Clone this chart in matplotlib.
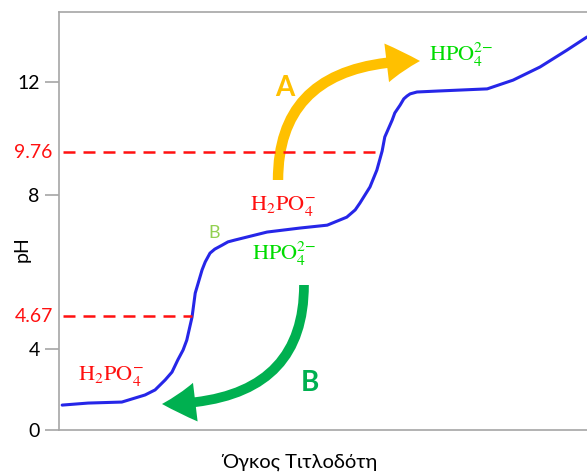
import numpy as np
import matplotlib
matplotlib.use("Agg")
import matplotlib.pyplot as plt
from matplotlib.patches import FancyArrowPatch
import matplotlib.transforms as mtransforms

plt.rcParams['font.family'] = ['Lato', 'Noto Sans', 'DejaVu Sans']
plt.rcParams['mathtext.fontset'] = 'stix'

# --- datos ---
volume = [0.6, 5.5, 11.9, 16.3, 18.2, 20.1, 21.4, 22.5, 23.5, 24.2, 25.2, 25.8,
          27.1, 27.7, 28.6, 29.5, 30.9, 32.0, 33.3, 39.4, 45.6, 50.8, 54.5, 56.1,
          57.0, 58.9, 60.2, 61.2, 61.7, 63.1, 63.6, 64.6, 65.3, 65.9, 66.5, 67.8,
          71.6, 81.1, 86.0, 91.1, 96.2, 100.0]
ph = [1.23, 1.33, 1.38, 1.73, 1.98, 2.47, 2.86, 3.46, 3.95, 4.18, 4.65, 5.30,
      5.94, 6.16, 6.40, 6.51, 6.62, 6.71, 6.76, 6.98, 7.09, 7.17, 7.39, 7.59,
      7.78, 8.33, 9.02, 9.79, 10.24, 10.78, 11.01, 11.26, 11.46, 11.55, 11.62, 11.68,
      11.71, 11.78, 12.06, 12.48, 13.02, 13.44]
pka_values = [4.67, 9.76]
y_ticks = [0, 4, 8, 12]

# el eje de pH del dibujo original no es lineal: escala por tramos
scale_ph = [-2, 0, 4, 4.67, 8, 9.76, 12, 16]
scale_pos = [-40.5, 0, 81, 114, 235, 278, 348, 473]


def forward(v):
    return np.interp(v, scale_ph, scale_pos)


def inverse(p):
    return np.interp(p, scale_pos, scale_ph)


fig = plt.figure(figsize=(5.87, 4.72), dpi=100)
ax = fig.add_axes([59 / 587, 42 / 472, 528 / 587, 418 / 472])
ax.set_yscale('function', functions=(forward, inverse))
ax.set_xlim(0, 100)
ax.set_ylim(0, 14.24)

# curva de titulación
ax.plot(volume, ph, color='#2626E8', linewidth=2.2, solid_capstyle='round',
        solid_joinstyle='round')

# líneas de pKa
for pk in pka_values:
    x_end = np.interp(pk, ph, volume)
    ax.plot([0.7, x_end], [pk, pk], color='#FF1010', linewidth=1.8,
            dashes=(4.8, 3.2))

# ejes
for side in ['left', 'bottom', 'top']:
    ax.spines[side].set_color('#A6A6A6')
    ax.spines[side].set_linewidth(1.2)
ax.spines['right'].set_visible(False)
ax.set_xticks([])
ax.set_yticks(y_ticks)
ax.set_yticklabels([str(t) for t in y_ticks])
ax.tick_params(axis='y', length=10, width=1.2, color='#A6A6A6', pad=4,
               labelsize=14)

trans = mtransforms.blended_transform_factory(ax.transAxes, ax.transData)
for pk in pka_values:
    ax.text(-0.012, pk, f'{pk:.2f}', transform=trans, ha='right', va='center',
            color='#FF1010', fontsize=14)

ax.set_ylabel('pH', fontsize=14, va='center')
ax.yaxis.set_label_coords(-0.070, 0.433)
ax.set_xlabel('Όγκος Τιτλοδότη', fontsize=14.5, va='center')
ax.xaxis.set_label_coords(0.456, -0.077)

# flechas A y B
arrow_a = FancyArrowPatch((0.4148, 0.5981), (0.6837, 0.8828),
                          transform=ax.transAxes,
                          connectionstyle='angle3,angleA=90,angleB=0',
                          arrowstyle='simple,head_length=24,head_width=28,tail_width=7.5',
                          mutation_scale=1, shrinkA=0, shrinkB=0,
                          color='#FFC000', linewidth=0)
ax.add_patch(arrow_a)
arrow_b = FancyArrowPatch((0.4640, 0.3469), (0.1951, 0.0622),
                          transform=ax.transAxes,
                          connectionstyle='angle3,angleA=90,angleB=0',
                          arrowstyle='simple,head_length=24,head_width=28,tail_width=7',
                          mutation_scale=1, shrinkA=0, shrinkB=0,
                          color='#00B050', linewidth=0)
ax.add_patch(arrow_b)

ax.text(0.428, 0.818, 'A', transform=ax.transAxes, ha='center', va='center',
        color='#FFC000', fontsize=20, fontweight='bold')
ax.text(0.475, 0.112, 'B', transform=ax.transAxes, ha='center', va='center',
        color='#00B050', fontsize=20, fontweight='bold')
ax.text(0.294, 0.471, 'B', transform=ax.transAxes, ha='center', va='center',
        color='#92D050', fontsize=13)

# especies
red = '#FF1010'
green = '#00DC00'
h2po4 = r'$\mathrm{H_2PO_4^{-}}$'
hpo4 = r'$\mathrm{HPO_4^{2{-}}}$'
ax.text(0.424, 0.536, h2po4, transform=ax.transAxes,
        ha='center', va='center', color=red, fontsize=16)
ax.text(0.426, 0.421, hpo4, transform=ax.transAxes,
        ha='center', va='center', color=green, fontsize=16)
ax.text(0.762, 0.897, hpo4, transform=ax.transAxes,
        ha='center', va='center', color=green, fontsize=16)
ax.text(0.099, 0.129, h2po4, transform=ax.transAxes,
        ha='center', va='center', color=red, fontsize=16)

fig.savefig('out.png', dpi=100)
plt.close(fig)
